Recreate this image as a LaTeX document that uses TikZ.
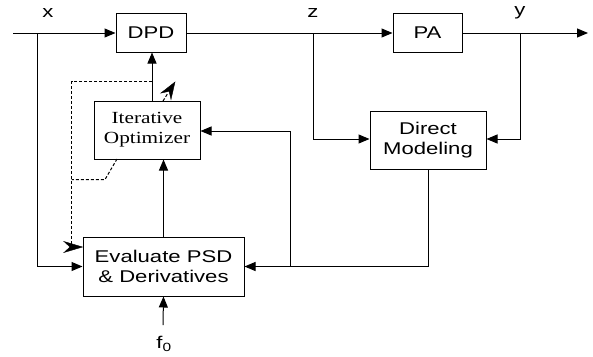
\documentclass[tikz,border=0pt]{standalone}
\usepackage{fontspec}
\setmainfont{Liberation Sans}
\newfontfamily\sanswide[FakeStretch=1.3]{Liberation Sans}
\newfontfamily\serifwide[FakeStretch=1.25]{Liberation Serif}
\usetikzlibrary{arrows.meta}
\begin{document}
\begin{tikzpicture}[x=1pt,y=-1pt,
  blk/.style={draw,line width=1pt,inner sep=0pt,align=center,
    font=\sanswide\fontsize{17}{19.5}\selectfont},
  sblk/.style={blk,font=\serifwide\fontsize{17}{20}\selectfont},
  lbl/.style={inner sep=0pt,font=\sanswide\fontsize{17}{19}\selectfont},
  wire/.style={line width=1pt},
  arr/.style={wire,-{Triangle[length=11pt,width=9pt]}},
  dsh/.style={line width=1pt,dash pattern=on 3pt off 2pt},
  headfill/.style={fill=black,draw=black,line width=0.4pt,line join=miter}]
\useasboundingbox (0,0) rectangle (593,356);
% blocks
\node[blk,minimum width=70pt,minimum height=39pt] (dpd) at (151,32.5) {DPD};
\node[blk,minimum width=69pt,minimum height=39pt] (pa) at (427.5,32.5) {PA};
\node[sblk,minimum width=106pt,minimum height=58pt] (opt) at (147,130) {Iterative\\Optimizer};
\node[blk,minimum width=116pt,minimum height=58pt] (dm) at (428,140) {Direct\\Modeling};
\node[blk,minimum width=161pt,minimum height=59pt] (eval) at (163.5,266.5) {Evaluate PSD\\\& Derivatives};
% labels
\node[lbl] (lx) at (48,13) {x};
\node[lbl] (lz) at (313,13) {z};
\node[lbl] (ly) at (520,13) {y};
\node[lbl] (lf) at (164,344) {f\textsubscript{0}};
% coordinates
\coordinate (in) at (13,33);
\coordinate (bx) at (37,33);
\coordinate (bz) at (313,33);
\coordinate (by) at (520,33);
\coordinate (out) at (588,33);
\coordinate (fin) at (163,325);
\coordinate (fb) at (290,266);
\coordinate (dA) at (152,81.5);
\coordinate (dB) at (71.5,81.5);
\coordinate (dC) at (71.5,247);
\coordinate (dD) at (eval.west |- 0,247);
\coordinate (gA) at (163,101);
\coordinate (gB) at (175,82);
% main path
\draw[arr] (in) -- (dpd.west |- in);
\draw[arr] (dpd.east |- in) -- (pa.west |- in);
\draw[arr] (pa.east |- in) -- (out);
% x branch
\draw[arr] (bx) -- (bx |- eval.west) -- (eval.west);
% z branch
\draw[arr] (bz) -- (313,139) -- (dm.west |- 0,139);
% y branch
\draw[arr] (by) -- (520,139) -- (dm.east |- 0,139);
% DM to eval
\draw[arr] (dm.south) -- (dm.south |- eval.east) -- (eval.east);
% feedback to optimizer
\draw[arr] (fb) -- (290,131) -- (opt.east |- 0,131);
% eval to optimizer
\draw[arr] (eval.north) -- (opt.south -| eval.north);
% optimizer to dpd
\draw[arr] (opt.north -| 152,0) -- (dpd.south -| 152,0);
% f0
\draw[arr] (fin) -- (eval.south);
% dashed adaptation lines
\draw[dsh] (dA) -- (dB) -- (dC) -- (70,247);
\draw[headfill] (dD) -- (64,241.5) -- (70,247) -- (64,252.5) -- cycle;
\draw[dsh] (117,159) -- (105,179.5) -- (71.5,179.5);
\draw[dsh] (gA) -- (168,93);
\draw[headfill] (gB) -- (171.0,99.5) -- (169.1,91.3) -- (160.8,93.1) -- cycle;
\end{tikzpicture}
\end{document}
